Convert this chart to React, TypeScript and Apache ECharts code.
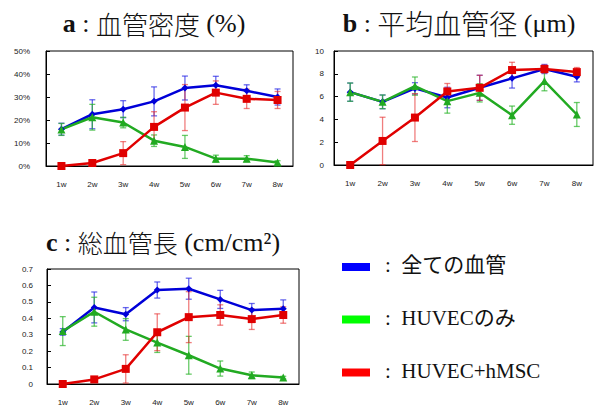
import React, { useEffect, useRef } from "react";
import * as echarts from "echarts";

const weeks = ["1w", "2w", "3w", "4w", "5w", "6w", "7w", "8w"];

// a : vessel density (%)
const densityAll = [16, 22.5, 24.7, 28.1, 33.9, 35.1, 32.7, 30.0];
const densityAllErr = [2.6, 6.3, 3.7, 6.3, 5.2, 3.9, 2.6, 3.5];
const densityHuvec = [15.9, 21.2, 18.9, 11.0, 8.3, 3.2, 3.2, 1.5];
const densityHuvecErr = [2.6, 5.6, 2.3, 2.5, 5.0, 1.5, 1.3, 0.8];
const densityMsc = [0, 1.3, 5.6, 17.0, 25.4, 31.9, 29.2, 28.7];
const densityMscErr = [0, 0.8, 5.0, 6.6, 10.0, 5.1, 4.2, 3.7];

// b : mean vessel diameter (µm)
const diamAll = [6.39, 5.54, 6.72, 5.92, 6.77, 7.6, 8.42, 7.74];
const diamAllErr = [0.8, 0.6, 0.5, 0.9, 1.1, 0.85, 0.4, 0.45];
const diamHuvec = [6.39, 5.54, 6.92, 5.6, 6.33, 4.37, 7.36, 4.43];
const diamHuvecErr = [0.8, 0.6, 0.8, 1.05, 0.8, 0.8, 0.85, 1.05];
const diamMsc = [0, 2.11, 4.16, 6.45, 6.77, 8.33, 8.42, 8.15];
const diamMscErr = [0, 2.08, 2.1, 0.7, 1.1, 0.68, 0.35, 0.4];

// c : total vessel length (cm/cm2)
const lenAll = [0.317, 0.466, 0.425, 0.572, 0.58, 0.515, 0.45, 0.458];
const lenAllErr = [0.02, 0.094, 0.04, 0.049, 0.064, 0.055, 0.04, 0.054];
const lenHuvec = [0.322, 0.44, 0.332, 0.252, 0.175, 0.094, 0.053, 0.039];
const lenHuvecErr = [0.088, 0.088, 0.066, 0.06, 0.115, 0.046, 0.02, 0.008];
const lenMsc = [0, 0.028, 0.092, 0.315, 0.407, 0.42, 0.395, 0.42];
const lenMscErr = [0, 0.015, 0.086, 0.112, 0.155, 0.062, 0.063, 0.05];

const legendNames = ["全ての血管", "HUVECのみ", "HUVEC+hMSC"];

const BLUE = "#0000d8";
const GREEN = "#22aa22";
const RED = "#e00000";
const BLUE_E = "rgba(40,40,230,0.7)";
const GREEN_E = "rgba(40,180,40,0.7)";
const RED_E = "rgba(230,40,40,0.6)";

const tickFont = { fontSize: 8, color: "#222", fontFamily: "Liberation Sans, Arial, sans-serif" };

function errData(vals: number[], errs: number[]) {
  return vals.map((v, i) => [i, v - errs[i], v + errs[i]]);
}

function errSeries(idx: number, vals: number[], errs: number[], color: string) {
  return {
    type: "custom",
    xAxisIndex: idx,
    yAxisIndex: idx,
    data: errData(vals, errs),
    encode: { x: 0, y: [1, 2] },
    z: 3,
    silent: true,
    renderItem: (params: any, api: any) => {
      const x = api.value(0);
      const lo = api.value(1);
      const hi = api.value(2);
      if (hi - lo <= 0) return { type: "group", children: [] };
      const a = api.coord([x, lo]);
      const b = api.coord([x, hi]);
      const w = 3;
      const st = { stroke: color, lineWidth: 1.3 };
      return {
        type: "group",
        children: [
          { type: "line", shape: { x1: a[0], y1: a[1], x2: b[0], y2: b[1] }, style: st },
          { type: "line", shape: { x1: a[0] - w, y1: a[1], x2: a[0] + w, y2: a[1] }, style: st },
          { type: "line", shape: { x1: b[0] - w, y1: b[1], x2: b[0] + w, y2: b[1] }, style: st },
        ],
      };
    },
  };
}

function lineSeries(idx: number, vals: number[], color: string, symbol: string, size: number) {
  return {
    type: "line",
    xAxisIndex: idx,
    yAxisIndex: idx,
    data: vals,
    symbol,
    symbolSize: size,
    showAllSymbol: true,
    z: 4,
    lineStyle: { color, width: 2.5 },
    itemStyle: { color, borderWidth: 0 },
  };
}

function xAxis(idx: number) {
  return {
    type: "category",
    gridIndex: idx,
    data: weeks,
    boundaryGap: true,
    axisLine: { lineStyle: { color: "#000", width: 1 } },
    axisTick: { inside: true, length: 4, lineStyle: { color: "#000" } },
    axisLabel: { ...tickFont, margin: 14 },
    splitLine: { show: false },
  };
}

function yAxis(idx: number, max: number, interval: number, margin: number, fmt?: string) {
  return {
    type: "value",
    gridIndex: idx,
    min: 0,
    max,
    interval,
    axisLine: { show: true, lineStyle: { color: "#000", width: 1 } },
    axisTick: { show: true, inside: true, length: 4, lineStyle: { color: "#000" } },
    axisLabel: { ...tickFont, margin, formatter: fmt },
    splitLine: { show: false },
  };
}

const titleFont = "Liberation Serif, Times New Roman, Noto Sans CJK JP, serif";
const cjkFont = "Noto Sans CJK JP, Liberation Serif, serif";

function titleText(x: number, y: number, letter: string, cjk: string, unit: string, cjkSize: number) {
  return {
    type: "text",
    x,
    y,
    style: {
      text: `{b|${letter}}{n| : }{j|${cjk}}{n| ${unit}}`,
      align: "center",
      verticalAlign: "middle",
      rich: {
        b: { fontSize: 26, fontWeight: "bold", fontFamily: titleFont, fill: "#111" },
        n: { fontSize: 26, fontFamily: titleFont, fill: "#111" },
        j: { fontSize: cjkSize, fontFamily: cjkFont, fill: "#111", fontWeight: 300 },
      },
    },
  };
}

export default function App() {
  const ref = useRef<HTMLDivElement>(null);
  useEffect(() => {
    document.body.style.margin = "0";
    if (!ref.current) return;
    const chart = echarts.init(ref.current, undefined, { renderer: "svg" });
    const legendColors = ["#0000ff", "#00ff00", "#ff0000"];
    const legendY = [267, 319.5, 372.5];
    const legendGraphics: any[] = [];
    legendNames.forEach((name, i) => {
      legendGraphics.push({
        type: "rect",
        shape: { x: 342, y: legendY[i] - 4, width: 28, height: 8 },
        style: { fill: legendColors[i] },
      });
      legendGraphics.push({
        type: "text",
        x: 385,
        y: legendY[i] - 2,
        style: {
          text: ":  " + name,
          verticalAlign: "middle",
          fontSize: 21,
          fontFamily: titleFont,
          fill: "#111",
        },
      });
    });
    chart.setOption({
      animation: false,
      backgroundColor: "#fff",
      grid: [
        { left: 46, top: 51, width: 247, height: 115, show: true, borderColor: "#000", borderWidth: 1, backgroundColor: "transparent" },
        { left: 334, top: 51, width: 259, height: 114, show: true, borderColor: "#000", borderWidth: 1, backgroundColor: "transparent" },
        { left: 47, top: 269, width: 252, height: 115, show: true, borderColor: "#000", borderWidth: 1, backgroundColor: "transparent" },
      ],
      xAxis: [xAxis(0), xAxis(1), xAxis(2)],
      yAxis: [
        yAxis(0, 50, 10, 16, "{value}%"),
        yAxis(1, 10, 2, 10),
        yAxis(2, 0.7, 0.1, 14),
      ],
      series: [
        errSeries(0, densityAll, densityAllErr, BLUE_E),
        errSeries(0, densityHuvec, densityHuvecErr, GREEN_E),
        errSeries(0, densityMsc, densityMscErr, RED_E),
        lineSeries(0, densityAll, BLUE, "diamond", 7),
        lineSeries(0, densityHuvec, GREEN, "triangle", 8),
        lineSeries(0, densityMsc, RED, "rect", 8),
        errSeries(1, diamAll, diamAllErr, BLUE_E),
        errSeries(1, diamHuvec, diamHuvecErr, GREEN_E),
        errSeries(1, diamMsc, diamMscErr, RED_E),
        lineSeries(1, diamAll, BLUE, "diamond", 7),
        lineSeries(1, diamHuvec, GREEN, "triangle", 8),
        lineSeries(1, diamMsc, RED, "rect", 8),
        errSeries(2, lenAll, lenAllErr, BLUE_E),
        errSeries(2, lenHuvec, lenHuvecErr, GREEN_E),
        errSeries(2, lenMsc, lenMscErr, RED_E),
        lineSeries(2, lenAll, BLUE, "diamond", 7),
        lineSeries(2, lenHuvec, GREEN, "triangle", 8),
        lineSeries(2, lenMsc, RED, "rect", 8),
      ],
      graphic: [
        titleText(154, 23, "a", "血管密度", "(%)", 26),
        titleText(459, 23, "b", "平均血管径", "(μm)", 28),
        titleText(163, 242, "c", "総血管長", "(cm/cm²)", 25),
        ...legendGraphics,
      ],
    });
    return () => chart.dispose();
  }, []);
  return <div ref={ref} style={{ width: 596, height: 408 }} />;
}
